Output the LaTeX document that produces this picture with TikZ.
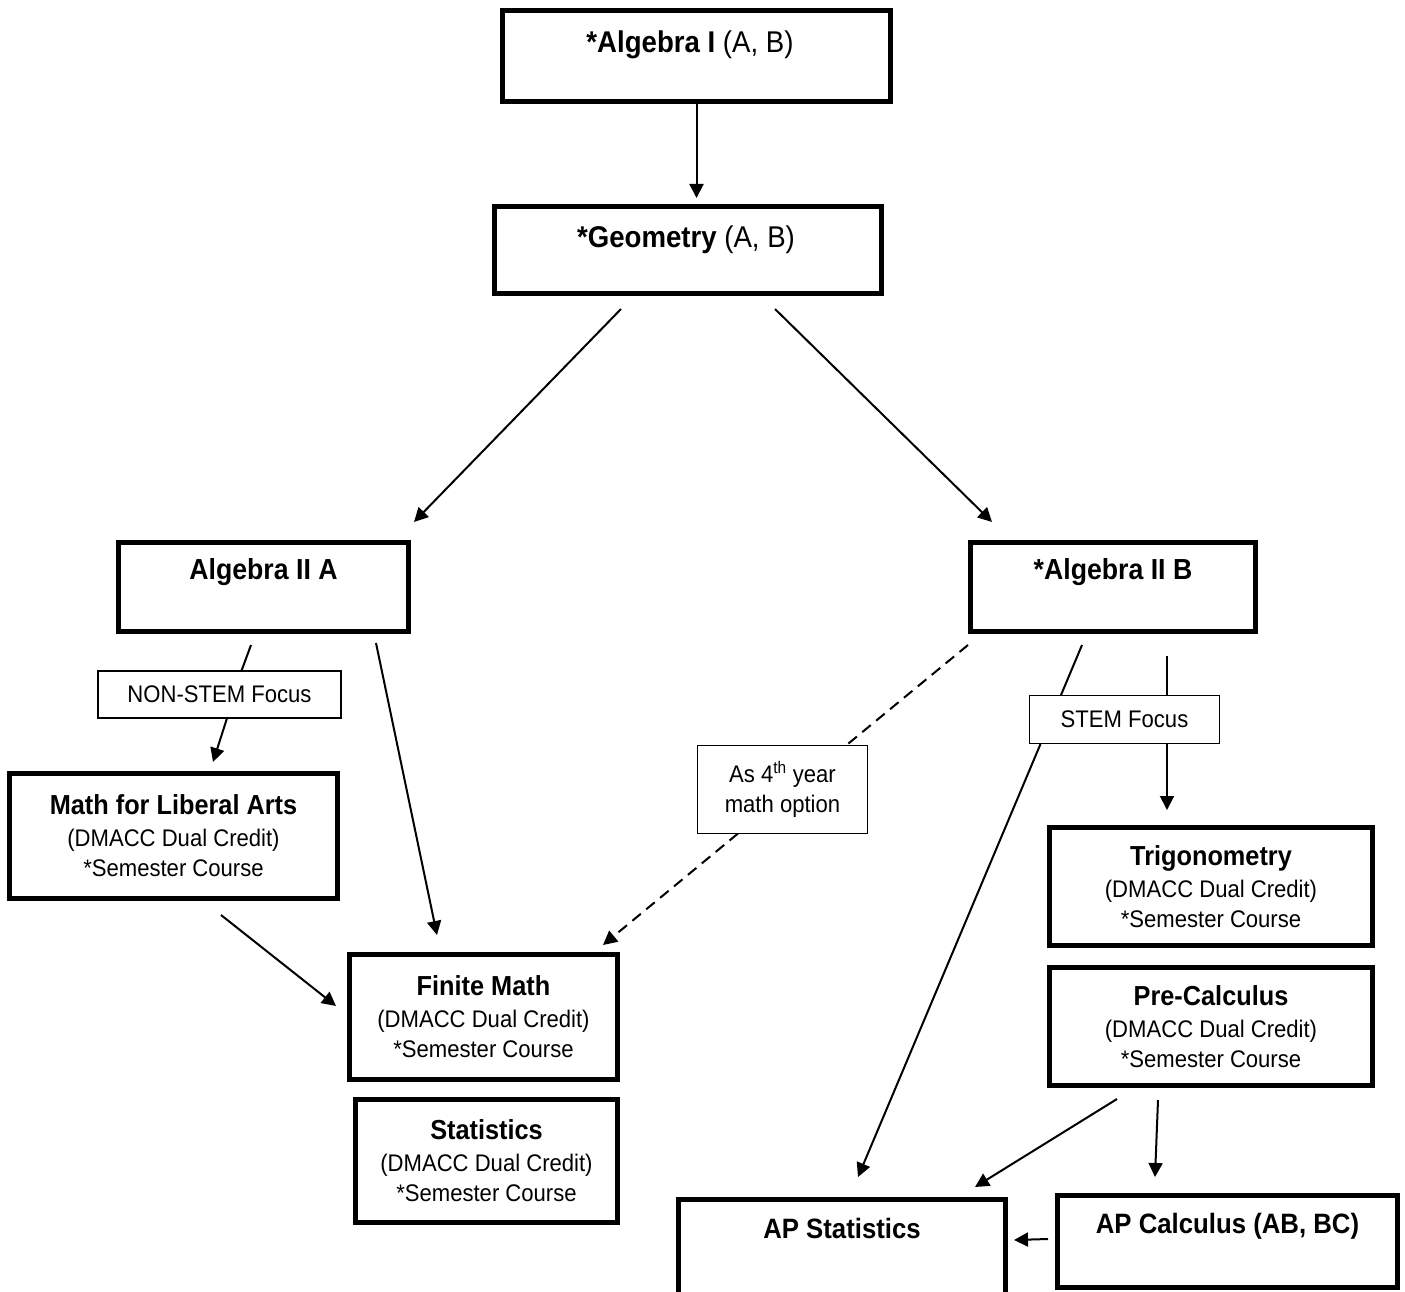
\documentclass[tikz,border=0pt]{standalone}
\usepackage{fontspec}
\setmainfont[FakeStretch=0.92]{Liberation Sans}
\usetikzlibrary{arrows.meta}
\newcommand\fBig{\fontsize{30}{34}\selectfont}
\newcommand\fMid{\fontsize{29}{34}\selectfont\bfseries}
\newcommand\fTitle{\fontsize{27.5}{32}\selectfont\bfseries}
\newcommand\fAP{\fontsize{28}{32}\selectfont\bfseries}
\newcommand\fSub{\fontsize{24}{30}\selectfont}
\begin{document}
\begin{tikzpicture}[x=1pt,y=-1pt,
  bigbox/.style={draw,line width=5pt,inner sep=0pt,align=center,font=\fSub},
  tagbox/.style={draw,line width=1.8pt,fill=white,inner sep=0pt,align=center,font=\fSub},
  conn/.style={line width=2pt},
  arr/.style={conn,-{Triangle[length=14pt,width=14pt]}},
  dashconn/.style={conn,dash pattern=on 11pt off 7pt},
  dasharr/.style={dashconn,-{Triangle[length=14pt,width=14pt]}}]
\clip (0,0) rectangle (1405,1292);
\fill[white] (0,0) rectangle (1405,1292);

% main boxes
\node[bigbox,minimum width=388pt,minimum height=91pt] (alg1) at (696.5,56) {};
\node[font=\fBig] (alg1t) at (690,45) {\textbf{*Algebra I} (A, B)};
\node[bigbox,minimum width=387pt,minimum height=87pt] (geo) at (688,250) {};
\node[font=\fBig] (geot) at (686,240) {\textbf{*Geometry} (A, B)};
\node[bigbox,minimum width=290pt,minimum height=89pt] (alg2a) at (263.5,587) {};
\node[font=\fMid] (alg2at) at (263.5,572) {Algebra II A};
\node[bigbox,minimum width=285pt,minimum height=89pt] (alg2b) at (1113,587) {};
\node[font=\fMid] (alg2bt) at (1113,572) {*Algebra II B};

\node[bigbox,minimum width=328pt,minimum height=125pt] (mla) at (173.5,836)
  {{\fTitle Math for Liberal Arts}\\[2pt](DMACC Dual Credit)\\{}*Semester Course};
\node[bigbox,minimum width=268pt,minimum height=125pt] (finite) at (483.5,1017)
  {{\fTitle Finite Math}\\[2pt](DMACC Dual Credit)\\{}*Semester Course};
\node[bigbox,minimum width=262pt,minimum height=123pt] (stats) at (486.5,1161)
  {{\fTitle Statistics}\\[2pt](DMACC Dual Credit)\\{}*Semester Course};
\node[bigbox,minimum width=323pt,minimum height=118pt] (trig) at (1211,886.5)
  {{\fTitle Trigonometry}\\[2pt](DMACC Dual Credit)\\{}*Semester Course};
\node[bigbox,minimum width=323pt,minimum height=118pt] (precalc) at (1211,1026.5)
  {{\fTitle Pre-Calculus}\\[2pt](DMACC Dual Credit)\\{}*Semester Course};

\node[bigbox,minimum width=327pt,minimum height=97.5pt] (apstat) at (842,1248) {};
\node[font=\fAP] (apstatt) at (842,1228) {AP Statistics};
\node[bigbox,minimum width=340pt,minimum height=92pt] (apcalc) at (1227.5,1241.5) {};
\node[font=\fAP] (apcalct) at (1227.5,1226) {AP Calculus (AB, BC)};

% connector end points
\coordinate (geoIn) at (696.5,198);
\coordinate (geoL) at (621,309);
\coordinate (a2aIn) at (414,522);
\coordinate (geoR) at (775,309);
\coordinate (a2bIn) at (992,522);
\coordinate (a2aL) at (251,645);
\coordinate (nsTop) at (241.5,670.75);
\coordinate (nsBot) at (227,718.25);
\coordinate (mlaIn) at (213,762);
\coordinate (a2aR) at (376,643);
\coordinate (finIn1) at (437,935);
\coordinate (mlaOut) at (221,915);
\coordinate (finIn2) at (336,1006);
\coordinate (a2bL) at (968,645);
\coordinate (fTop) at (846,745.5);
\coordinate (fBot) at (738,833.5);
\coordinate (finIn3) at (603,945);
\coordinate (a2bM) at (1082,645);
\coordinate (sTopL) at (1061,695);
\coordinate (sBotL) at (1040.5,744);
\coordinate (apsIn1) at (858,1177);
\coordinate (a2bR) at (1167,656);
\coordinate (sTopR) at (1167,695.5);
\coordinate (sBotR) at (1167,743.5);
\coordinate (trigIn) at (1167,810);
\coordinate (pcL) at (1117,1099);
\coordinate (apsIn2) at (975,1187);
\coordinate (pcR) at (1158,1100);
\coordinate (apcIn) at (1155,1177);
\coordinate (apcOut) at (1048,1239);
\coordinate (apsIn3) at (1014,1240);

% connectors
\draw[arr] (alg1.south) -- (geoIn);
\draw[arr] (geoL) -- (a2aIn);
\draw[arr] (geoR) -- (a2bIn);
\draw[conn] (a2aL) -- (nsTop);
\draw[arr] (nsBot) -- (mlaIn);
\draw[arr] (a2aR) -- (finIn1);
\draw[arr] (mlaOut) -- (finIn2);
\draw[dashconn] (a2bL) -- (fTop);
\draw[dasharr] (fBot) -- (finIn3);
\draw[conn] (a2bM) -- (sTopL);
\draw[arr] (sBotL) -- (apsIn1);
\draw[conn] (a2bR) -- (sTopR);
\draw[arr] (sBotR) -- (trigIn);
\draw[arr] (pcL) -- (apsIn2);
\draw[arr] (pcR) -- (apcIn);
\draw[arr] (apcOut) -- (apsIn3);

% tag boxes
\node[tagbox,minimum width=243.5pt,minimum height=47.5pt] (nonstem) at (219.5,694.5) {NON-STEM Focus};
\node[tagbox,minimum width=190pt,minimum height=48pt] (stem) at (1124.5,719.5) {STEM Focus};
\node[tagbox,minimum width=170pt,minimum height=88pt] (fourth) at (782.5,789.5) {As 4\textsuperscript{th} year\\math option};
\end{tikzpicture}
\end{document}
